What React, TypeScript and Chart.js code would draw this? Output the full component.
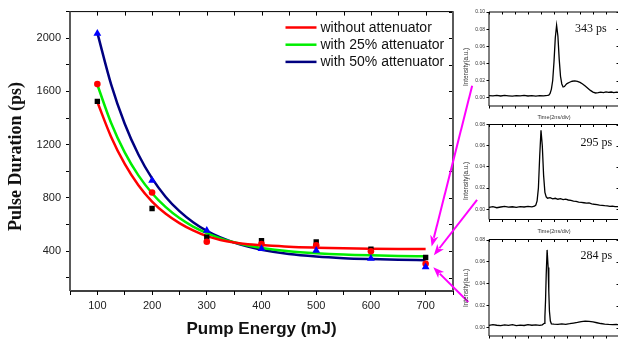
import React, { useEffect, useRef } from 'react';
import { Chart, registerables } from 'chart.js';
Chart.register(...registerables);

// ---------- main chart data ----------
const pumpEnergy = [100, 200, 300, 400, 500, 600, 700];
const withoutAttenuator = [1525, 720, 505, 478, 468, 415, 352];
const with25Attenuator = [1655, 840, 470, 453, 443, 398, 305];
const with50Attenuator = [2035, 930, 555, 417, 405, 345, 280];

const fitEnergy = [100, 125, 150, 175, 200, 225, 250, 275, 300, 325, 350, 375, 400, 450, 500, 550, 600, 650, 700];
const fitWithout = [1520, 1260, 1055, 895, 772, 680, 610, 555, 512, 484, 465, 452, 445, 433, 426, 421, 418, 416, 415];
const fit25 = [1650, 1365, 1142, 969, 835, 730, 648, 584, 535, 496, 466, 442, 424, 399, 384, 374, 368, 364, 361];
const fit50 = [2040, 1655, 1357, 1126, 946, 807, 700, 617, 552, 502, 464, 434, 410, 378, 359, 347, 340, 335, 331];

const legendLabels = ['without attenuator', 'with 25% attenuator', 'with 50% attenuator'];
const fitColors = ['#ff0000', '#00ee00', '#000080'];
const xTickLabels = [100, 200, 300, 400, 500, 600, 700];
const yTickLabels = [400, 800, 1200, 1600, 2000];

// arrows in main-chart data units
const arrowFromX = [785, 794, 778];
const arrowFromY = [1642, 785, 17];
const arrowToX = [711, 715, 714];
const arrowToY = [435, 368, 278];

// ---------- inset data (time in divisions of 2 ns, intensity a.u.) ----------
const pulse343Time = [0, 0.3, 0.6, 0.9, 1.2, 1.5, 1.8, 2.1, 2.4, 2.7, 3.0, 3.3, 3.6, 3.9, 4.2, 4.5, 4.6, 4.7, 4.8, 4.9, 5.0, 5.1, 5.2, 5.3, 5.4, 5.5, 5.6, 5.7, 5.8, 5.9, 6.0, 6.2, 6.4, 6.6, 6.8, 7.0, 7.2, 7.4, 7.6, 7.8, 8.0, 8.2, 8.4, 8.6, 8.8, 9.0, 9.2, 9.4, 9.6, 9.8, 10];
const pulse343Int = [0.0025, 0.0022, 0.0028, 0.002, 0.0026, 0.0022, 0.0018, 0.0025, 0.0021, 0.0027, 0.002, 0.0024, 0.0019, 0.0023, 0.0021, 0.0026, 0.003, 0.005, 0.01, 0.02, 0.042, 0.07, 0.0845, 0.072, 0.045, 0.025, 0.016, 0.0125, 0.013, 0.015, 0.0165, 0.018, 0.0192, 0.0196, 0.019, 0.0178, 0.016, 0.0135, 0.011, 0.0085, 0.0065, 0.0055, 0.0058, 0.0065, 0.006, 0.0068, 0.0062, 0.0066, 0.006, 0.0064, 0.0062];

const pulse295Time = [0, 0.3, 0.6, 0.9, 1.2, 1.5, 1.8, 2.1, 2.4, 2.7, 3.0, 3.3, 3.5, 3.6, 3.7, 3.8, 3.9, 4.0, 4.1, 4.2, 4.3, 4.4, 4.5, 4.7, 4.9, 5.1, 5.3, 5.5, 5.7, 5.9, 6.1, 6.3, 6.5, 6.7, 6.9, 7.1, 7.3, 7.5, 7.7, 7.9, 8.1, 8.3, 8.5, 8.7, 8.9, 9.1, 9.3, 9.5, 9.7, 10];
const pulse295Int = [0.0018, 0.0025, 0.0015, 0.0022, 0.0028, 0.002, 0.0024, 0.0019, 0.0026, 0.0022, 0.0027, 0.0023, 0.003, 0.004, 0.008, 0.02, 0.05, 0.0745, 0.06, 0.032, 0.016, 0.0118, 0.0105, 0.011, 0.0098, 0.0104, 0.0095, 0.01, 0.0092, 0.0096, 0.0088, 0.0085, 0.0078, 0.0074, 0.0068, 0.0066, 0.0062, 0.0058, 0.006, 0.0052, 0.0048, 0.0045, 0.004, 0.0038, 0.0034, 0.0032, 0.0028, 0.003, 0.0026, 0.0025];

const pulse284Time = [0, 0.3, 0.6, 0.9, 1.2, 1.5, 1.8, 2.1, 2.4, 2.7, 3.0, 3.3, 3.6, 3.9, 4.1, 4.25, 4.3, 4.35, 4.4, 4.47, 4.55, 4.6, 4.65, 4.72, 4.8, 5.0, 5.3, 5.6, 5.9, 6.2, 6.5, 6.8, 7.1, 7.4, 7.7, 8.0, 8.3, 8.6, 8.9, 9.2, 9.5, 9.8, 10];
const pulse284Int = [0.002, 0.0028, 0.0022, 0.0018, 0.0026, 0.0021, 0.0027, 0.0019, 0.0024, 0.002, 0.0028, 0.0022, 0.0025, 0.0021, 0.0026, 0.004, 0.01, 0.025, 0.048, 0.071, 0.055, 0.033, 0.015, 0.006, 0.0035, 0.0032, 0.003, 0.0034, 0.0031, 0.0036, 0.0042, 0.0048, 0.0055, 0.006, 0.0058, 0.0052, 0.0045, 0.0038, 0.0033, 0.003, 0.0028, 0.003, 0.0026];

const insetLabels = ['343 ps', '295 ps', '284 ps'];
const insetYMax = [0.1, 0.08, 0.0805];
const insetYMin = [-0.0097, -0.0096, -0.0076];

const SANS = '"Liberation Sans", Arial, Helvetica, sans-serif';
const SERIF = '"Liberation Serif", "Times New Roman", serif';

const toXY = (xs: number[], ys: number[]) => xs.map((x, i) => ({ x, y: ys[i] }));

const framePlugin = {
  id: 'frame',
  afterDraw(chart: any, _a: any, opts: any) {
    const { ctx, chartArea } = chart;
    const { left, right, top, bottom } = chartArea;
    const xs = chart.scales.x;
    const ys = chart.scales.y;
    ctx.save();
    ctx.strokeStyle = '#000';
    ctx.lineWidth = 1;
    ctx.beginPath();
    for (const t of xs.ticks) {
      const px = Math.round(xs.getPixelForValue(t.value)) + 0.5;
      ctx.moveTo(px, top);
      ctx.lineTo(px, top + opts.tickLen);
    }
    for (const t of ys.ticks) {
      const py = Math.round(ys.getPixelForValue(t.value)) + 0.5;
      ctx.moveTo(right, py);
      ctx.lineTo(right - opts.tickLen, py);
    }
    ctx.stroke();
    ctx.strokeStyle = '#000';
    ctx.lineWidth = opts.topWidth;
    ctx.beginPath();
    ctx.moveTo(left, top);
    ctx.lineTo(right, top);
    ctx.stroke();
    ctx.lineWidth = opts.bottomWidth;
    ctx.beginPath();
    ctx.moveTo(left, bottom);
    ctx.lineTo(right, bottom);
    ctx.stroke();
    ctx.strokeStyle = opts.sideColor;
    ctx.lineWidth = opts.sideWidth;
    ctx.beginPath();
    ctx.moveTo(left, top);
    ctx.lineTo(left, bottom);
    ctx.moveTo(right, top);
    ctx.lineTo(right, bottom);
    ctx.stroke();
    ctx.restore();
  },
};

function drawArrow(ctx: CanvasRenderingContext2D, x1: number, y1: number, x2: number, y2: number) {
  const ang = Math.atan2(y2 - y1, x2 - x1);
  const hl = 11;
  const hw = 4.2;
  const bx = x2 - hl * Math.cos(ang);
  const by = y2 - hl * Math.sin(ang);
  ctx.beginPath();
  ctx.moveTo(x1, y1);
  ctx.lineTo(bx + 2 * Math.cos(ang), by + 2 * Math.sin(ang));
  ctx.stroke();
  ctx.beginPath();
  ctx.moveTo(x2, y2);
  ctx.lineTo(bx + hw * Math.sin(ang), by - hw * Math.cos(ang));
  ctx.lineTo(bx + 3 * Math.cos(ang), by + 3 * Math.sin(ang));
  ctx.lineTo(bx - hw * Math.sin(ang), by + hw * Math.cos(ang));
  ctx.closePath();
  ctx.fill();
}

const mainDecorPlugin = {
  id: 'mainDecor',
  afterDraw(chart: any) {
    const { ctx } = chart;
    const xs = chart.scales.x;
    const ys = chart.scales.y;
    ctx.save();
    // legend
    legendLabels.forEach((lab, i) => {
      const y = 27.5 + i * 17.2;
      ctx.strokeStyle = fitColors[i];
      ctx.lineWidth = 2.5;
      ctx.beginPath();
      ctx.moveTo(285.5, y);
      ctx.lineTo(316.5, y);
      ctx.stroke();
      ctx.fillStyle = '#111';
      ctx.font = `14px ${SANS}`;
      ctx.textAlign = 'left';
      ctx.textBaseline = 'middle';
      ctx.fillText(lab, 320.5, y + 0.5);
    });
    // axis titles
    ctx.fillStyle = '#111';
    ctx.font = `bold 17px ${SANS}`;
    ctx.textAlign = 'center';
    ctx.textBaseline = 'middle';
    ctx.fillText('Pump Energy (mJ)', 261.5, 329.5);
    ctx.save();
    ctx.translate(16, 156.5);
    ctx.rotate(-Math.PI / 2);
    ctx.font = `bold 18px ${SERIF}`;
    ctx.fillText('Pulse Duration (ps)', 0, 0);
    ctx.restore();
    // arrows
    ctx.strokeStyle = '#ff00ff';
    ctx.fillStyle = '#ff00ff';
    ctx.lineWidth = 2;
    for (let i = 0; i < arrowFromX.length; i++) {
      drawArrow(
        ctx,
        xs.getPixelForValue(arrowFromX[i]),
        ys.getPixelForValue(arrowFromY[i]),
        xs.getPixelForValue(arrowToX[i]),
        ys.getPixelForValue(arrowToY[i])
      );
    }
    ctx.restore();
  },
};

const insetDecorPlugin = {
  id: 'insetDecor',
  afterDraw(chart: any, _a: any, opts: any) {
    const { ctx, chartArea } = chart;
    ctx.save();
    ctx.fillStyle = '#111';
    ctx.font = `12px ${SERIF}`;
    ctx.textAlign = 'left';
    ctx.textBaseline = 'middle';
    ctx.fillText(opts.label, opts.labelX, opts.labelY);
    ctx.font = `5.5px ${SANS}`;
    ctx.fillStyle = '#333';
    ctx.textAlign = 'center';
    ctx.fillText('Time(2ns/div)', (chartArea.left + chartArea.right) / 2, opts.xTitleY);
    ctx.save();
    ctx.translate(6.7, opts.yTitleY);
    ctx.rotate(-Math.PI / 2);
    ctx.font = `6.3px ${SANS}`;
    ctx.fillText('Intensity(a.u.)', 0, 0);
    ctx.restore();
    ctx.restore();
  },
};

function mainConfig(): any {
  return {
    type: 'scatter',
    data: {
      datasets: [
        { label: 'tri', data: toXY(pumpEnergy, with50Attenuator), pointStyle: 'triangle', pointRadius: 4.5, pointBorderWidth: 0, backgroundColor: '#0000ff', borderColor: '#0000ff', showLine: false },
        { label: 'circ', data: toXY(pumpEnergy, with25Attenuator), pointStyle: 'circle', pointRadius: 3.3, pointBorderWidth: 0, backgroundColor: '#ff0000', borderColor: '#ff0000', showLine: false },
        { label: 'sq', data: toXY(pumpEnergy, withoutAttenuator), pointStyle: 'rect', pointRadius: 3.8, pointBorderWidth: 0, backgroundColor: '#000', borderColor: '#000', showLine: false },
        { label: legendLabels[0], data: toXY(fitEnergy, fitWithout), showLine: true, pointRadius: 0, borderColor: fitColors[0], borderWidth: 2.5, cubicInterpolationMode: 'monotone' },
        { label: legendLabels[1], data: toXY(fitEnergy, fit25), showLine: true, pointRadius: 0, borderColor: fitColors[1], borderWidth: 2.5, cubicInterpolationMode: 'monotone' },
        { label: legendLabels[2], data: toXY(fitEnergy, fit50), showLine: true, pointRadius: 0, borderColor: fitColors[2], borderWidth: 2.5, cubicInterpolationMode: 'monotone' },
      ],
    },
    options: {
      animation: false,
      responsive: false,
      devicePixelRatio: 1,
      layout: { padding: { top: 9, right: 165, left: 0, bottom: 0 } },
      plugins: {
        legend: { display: false },
        tooltip: { enabled: false },
        frame: { tickLen: 4, sideColor: '#5a5a5a', sideWidth: 2, topWidth: 1, bottomWidth: 1.5 },
      },
      scales: {
        x: {
          type: 'linear',
          min: 50,
          max: 750,
          afterFit: (s: any) => { s.height = 50; },
          ticks: {
            stepSize: 50,
            autoSkip: false,
            maxRotation: 0,
            padding: 4,
            color: '#222',
            font: { family: SANS, size: 11 },
            callback: (v: any) => (xTickLabels.includes(v) ? String(v) : ''),
          },
          grid: { display: true, drawOnChartArea: false, drawTicks: true, tickLength: 4, color: '#000', lineWidth: 1 },
          border: { display: false },
        },
        y: {
          type: 'linear',
          min: 100,
          max: 2200,
          afterFit: (s: any) => { s.width = 70; },
          ticks: {
            stepSize: 200,
            includeBounds: false,
            autoSkip: false,
            padding: 5,
            color: '#222',
            font: { family: SANS, size: 11 },
            callback: (v: any) => (yTickLabels.includes(v) ? String(v) : ''),
          },
          grid: { display: true, drawOnChartArea: false, drawTicks: true, tickLength: 4, color: '#000', lineWidth: 1 },
          border: { display: false },
        },
      },
    },
    plugins: [framePlugin, mainDecorPlugin],
  };
}

type InsetSpec = {
  time: number[];
  intensity: number[];
  label: string;
  yMin: number;
  yMax: number;
  padTop: number;
  xHeight: number;
  labelX: number;
  labelY: number;
  xTitleY: number;
  yTitleY: number;
};

function insetConfig(s: InsetSpec): any {
  return {
    type: 'scatter',
    data: {
      datasets: [
        { data: toXY(s.time, s.intensity), showLine: true, pointRadius: 0, borderColor: '#000', borderWidth: 1.3 },
      ],
    },
    options: {
      animation: false,
      responsive: false,
      devicePixelRatio: 1,
      layout: { padding: { top: s.padTop, right: 1, left: 0, bottom: 0 } },
      plugins: {
        legend: { display: false },
        tooltip: { enabled: false },
        frame: { tickLen: 2.5, sideColor: '#000', sideWidth: 1, topWidth: 1, bottomWidth: 1 },
        insetDecor: { label: s.label, labelX: s.labelX, labelY: s.labelY, xTitleY: s.xTitleY, yTitleY: s.yTitleY },
      },
      scales: {
        x: {
          type: 'linear',
          min: 0,
          max: 10,
          afterFit: (sc: any) => { sc.height = s.xHeight; },
          ticks: { stepSize: 1, display: false },
          grid: { display: true, drawOnChartArea: false, drawTicks: true, tickLength: 2.5, color: '#000', lineWidth: 1 },
          border: { display: false },
        },
        y: {
          type: 'linear',
          min: s.yMin,
          max: s.yMax,
          afterFit: (sc: any) => { sc.width = 29; },
          ticks: {
            stepSize: 0.02,
            includeBounds: false,
            autoSkip: false,
            padding: 1.5,
            color: '#333',
            font: { family: SANS, size: 5 },
            callback: (v: any) => Number(v).toFixed(2),
          },
          grid: { display: true, drawOnChartArea: false, drawTicks: true, tickLength: 2.5, color: '#000', lineWidth: 1 },
          border: { display: false },
        },
      },
    },
    plugins: [framePlugin, insetDecorPlugin],
  };
}

const insetBoxes = [
  { top: 0, height: 122, padTop: 12, xHeight: 16, labelX: 115, labelY: 29, xTitleY: 117, yTitleY: 67 },
  { top: 120, height: 114, padTop: 4.5, xHeight: 14.5, labelX: 120.5, labelY: 22.7, xTitleY: 111, yTitleY: 61 },
  { top: 234, height: 120, padTop: 5.5, xHeight: 18, labelX: 120.5, labelY: 21.7, xTitleY: 111, yTitleY: 54 },
];

const insetTimes = [pulse343Time, pulse295Time, pulse284Time];
const insetInts = [pulse343Int, pulse295Int, pulse284Int];

export default function App() {
  const mainRef = useRef<HTMLCanvasElement>(null);
  const r1 = useRef<HTMLCanvasElement>(null);
  const r2 = useRef<HTMLCanvasElement>(null);
  const r3 = useRef<HTMLCanvasElement>(null);

  useEffect(() => {
    const charts: Chart[] = [];
    if (mainRef.current) charts.push(new Chart(mainRef.current, mainConfig()));
    [r1, r2, r3].forEach((r, k) => {
      if (!r.current) return;
      const b = insetBoxes[k];
      charts.push(
        new Chart(
          r.current,
          insetConfig({
            time: insetTimes[k],
            intensity: insetInts[k],
            label: insetLabels[k],
            yMin: insetYMin[k],
            yMax: insetYMax[k],
            padTop: b.padTop,
            xHeight: b.xHeight,
            labelX: b.labelX,
            labelY: b.labelY,
            xTitleY: b.xTitleY,
            yTitleY: b.yTitleY,
          })
        )
      );
    });
    return () => charts.forEach((c) => c.destroy());
  }, []);

  const refs = [r1, r2, r3];
  return (
    <div style={{ position: 'fixed', left: 0, top: 0, width: 618, height: 341, overflow: 'hidden', background: '#fff' }}>
      <canvas ref={mainRef} width={618} height={341} style={{ position: 'absolute', left: 0, top: 0, width: 618, height: 341 }} />
      {insetBoxes.map((b, k) => (
        <canvas
          key={k}
          ref={refs[k]}
          width={160}
          height={b.height}
          style={{ position: 'absolute', left: 460, top: b.top, width: 160, height: b.height }}
        />
      ))}
    </div>
  );
}
